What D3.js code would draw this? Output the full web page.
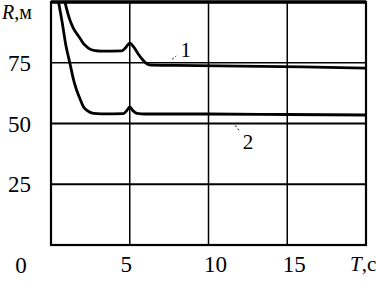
<!DOCTYPE html>
<html lang="ru">
<head>
<meta charset="UTF-8">
<title>R(T)</title>
<script src="https://cdn.jsdelivr.net/npm/d3@7"></script>
<style>
    body { margin: 0; background: #fff; }
    text { font-family: "Liberation Serif", "DejaVu Serif", serif; fill: #000; }
</style>
</head>
<body>
<div id="chart"></div>
<script>
// данные: время T (с) и R (м)
const xTicks = [5, 10, 15]
const yTicks = [25, 50, 75]
const curve1T = [0.85, 1.0, 1.2, 1.4, 1.63, 1.85, 2.05, 2.25, 2.48, 2.8, 3.2, 4.5, 4.75, 5.0, 5.25, 5.55, 5.85, 6.1, 6.4, 8, 12, 16, 20]
const curve1R = [101, 97, 92.6, 89.5, 87, 85, 83, 81.7, 80.6, 80, 79.8, 79.9, 81.3, 83.1, 81.5, 78.5, 76, 74.5, 74, 73.9, 73.6, 73.3, 72.8]
const curve2T = [0.45, 0.7, 0.95, 1.2, 1.45, 1.63, 1.85, 2.05, 2.3, 2.69, 3.2, 4.6, 4.8, 5.0, 5.2, 5.45, 6, 10, 15, 20]
const curve2R = [101, 92, 82, 74.8, 67.5, 63.7, 60, 57, 55.3, 54.2, 54, 54.1, 55.2, 56.8, 55.3, 54.2, 53.9, 53.9, 53.7, 53.5]
const curveLabels = ['1', '2']

const width = 376, height = 283
const x = d3.scaleLinear().domain([0, 20]).range([51, 366])
const y = d3.scaleLinear().domain([0, 100]).range([245, 2])

const svg = d3.select('#chart').append('svg').attr('width', width).attr('height', height)

svg.append('clipPath').attr('id', 'clip')
    .append('rect').attr('x', x(0)).attr('y', y(100)).attr('width', x(20) - x(0)).attr('height', y(0) - y(100))

// сетка
svg.selectAll('.vgrid').data(xTicks).enter().append('line')
    .attr('x1', d => x(d)).attr('x2', d => x(d)).attr('y1', y(100)).attr('y2', y(0))
    .attr('stroke', '#000').attr('stroke-width', 1.5)
svg.selectAll('.hgrid').data(yTicks).enter().append('line')
    .attr('x1', x(0)).attr('x2', x(20)).attr('y1', d => y(d)).attr('y2', d => y(d))
    .attr('stroke', '#000').attr('stroke-width', d => d === 75 ? 1.3 : 2)

// рамка
svg.append('rect').attr('x', x(0)).attr('y', y(100)).attr('width', x(20) - x(0)).attr('height', y(0) - y(100))
    .attr('fill', 'none').attr('stroke', '#000').attr('stroke-width', 2.2)
svg.append('line').attr('x1', x(0)).attr('x2', x(20)).attr('y1', y(100)).attr('y2', y(100))
    .attr('stroke', '#000').attr('stroke-width', 3.5)

// кривые
const line = d3.line().x(d => x(d[0])).y(d => y(d[1])).curve(d3.curveMonotoneX)
const curves = [d3.zip(curve1T, curve1R), d3.zip(curve2T, curve2R)]
svg.append('g').attr('clip-path', 'url(#clip)')
    .selectAll('path').data(curves).enter().append('path')
    .attr('d', line).attr('fill', 'none').attr('stroke', '#000').attr('stroke-width', 2.8)
    .attr('stroke-linejoin', 'round')

// подписи осей
svg.selectAll('.ylab').data(yTicks).enter().append('text')
    .attr('x', 31).attr('y', d => y(d)).attr('dy', '0.35em')
    .attr('text-anchor', 'end').attr('font-size', 23).text(d => d)
svg.selectAll('.xlab').data(xTicks).enter().append('text')
    .attr('x', d => x(d) + (d < 10 ? -3.5 : 7)).attr('y', 272)
    .attr('text-anchor', 'middle').attr('font-size', 23).text(d => d)
svg.append('text').attr('x', 21).attr('y', 273).attr('text-anchor', 'middle').attr('font-size', 23).text('0')

const rLab = svg.append('text').attr('x', 2).attr('y', 19).attr('font-size', 20)
rLab.append('tspan').attr('font-style', 'italic').text('R')
rLab.append('tspan').text(',м')
const tLab = svg.append('text').attr('x', 350).attr('y', 271).attr('font-size', 21)
tLab.append('tspan').attr('font-style', 'italic').text('T')
tLab.append('tspan').text(',c')

// номера кривых с выносками
const labelT = [8.55, 12.5]
const labelR = [77.4, 39.5]
const leadT = [[7.7, 7.95], [11.7, 12.0]]
const leadR = [[76.5, 77.8], [49.2, 46.6]]
svg.selectAll('.lead').data(leadT).enter().append('line')
    .attr('x1', d => x(d[0])).attr('x2', d => x(d[1]))
    .attr('y1', (d, i) => y(leadR[i][0])).attr('y2', (d, i) => y(leadR[i][1]))
    .attr('stroke', '#000').attr('stroke-width', 1).attr('stroke-dasharray', '2,2')
svg.selectAll('.clab').data(curveLabels).enter().append('text')
    .attr('x', (d, i) => x(labelT[i])).attr('y', (d, i) => y(labelR[i]))
    .attr('text-anchor', 'middle').attr('font-size', 21).text(d => d)
</script>
</body>
</html>
